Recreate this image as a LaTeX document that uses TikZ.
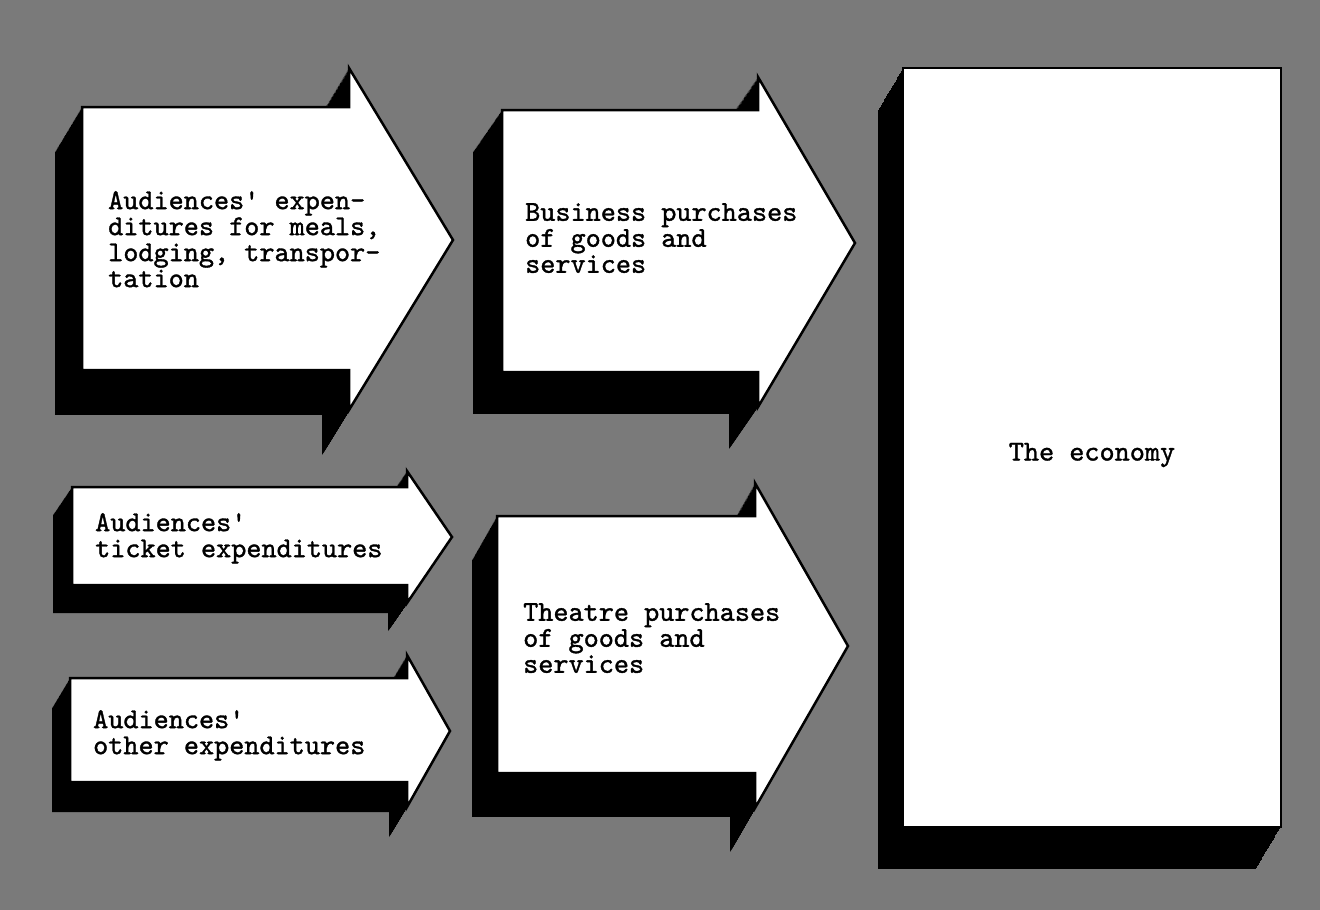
\documentclass[tikz,border=0pt]{standalone}
\usepackage{fontspec}
\usepackage{tikz}
\newfontfamily\typewriter[FakeBold=1.2]{lmmono10-regular.otf}

\begin{document}
\begin{tikzpicture}[
        x=1pt, y=-1pt,
        paper/.style={fill=black!52},
        shadow/.style={fill=black},
        panel/.style={fill=white, draw=black, line width=2.5pt, line join=miter},
        label/.style={font=\typewriter\fontsize{28.8}{26}\selectfont, align=left, inner sep=0pt, anchor=north west},
    ]

    %Draw the grey paper
    \fill [paper] (0,0) rectangle (1320,910);
    \useasboundingbox (0,0) rectangle (1320,910);

    %Draw the meals arrow
    \foreach \s in {0,0.025,...,1}
            \fill [shadow, shift={(-27*\s,45*\s)}] (82,107) -- (349,107) -- (349,68) -- (453,240) -- (349,410) -- (349,370) -- (82,370) -- cycle;
    \draw [panel] (82,107) -- (349,107) -- (349,68) -- (453,240) -- (349,410) -- (349,370) -- (82,370) -- cycle;
    \node [label] (meals) at (108,191) {Audiences' expen-\\ditures for meals,\\lodging, transpor-\\tation};

    %Draw the business arrow
    \foreach \s in {0,0.025,...,1}
            \fill [shadow, shift={(-29*\s,42*\s)}] (502,110) -- (758,110) -- (758,77) -- (855,243) -- (758,407) -- (758,372) -- (502,372) -- cycle;
    \draw [panel] (502,110) -- (758,110) -- (758,77) -- (855,243) -- (758,407) -- (758,372) -- (502,372) -- cycle;
    \node [label] (business) at (525,203) {Business purchases\\of goods and\\services};

    %Draw the ticket arrow
    \foreach \s in {0,0.025,...,1}
            \fill [shadow, shift={(-19*\s,28*\s)}] (72,487) -- (407,487) -- (407,471) -- (452,537) -- (407,603) -- (407,585) -- (72,585) -- cycle;
    \draw [panel] (72,487) -- (407,487) -- (407,471) -- (452,537) -- (407,603) -- (407,585) -- (72,585) -- cycle;
    \node [label] (ticket) at (95,513) {Audiences'\\ticket expenditures};

    %Draw the other arrow
    \foreach \s in {0,0.025,...,1}
            \fill [shadow, shift={(-18*\s,30*\s)}] (70,678) -- (407,678) -- (407,655) -- (450,731) -- (407,807) -- (407,782) -- (70,782) -- cycle;
    \draw [panel] (70,678) -- (407,678) -- (407,655) -- (450,731) -- (407,807) -- (407,782) -- (70,782) -- cycle;
    \node [label] (other) at (93,710) {Audiences'\\other expenditures};

    %Draw the theatre arrow
    \foreach \s in {0,0.025,...,1}
            \fill [shadow, shift={(-25*\s,44*\s)}] (497,516) -- (755,516) -- (755,483) -- (848,646) -- (755,808) -- (755,773) -- (497,773) -- cycle;
    \draw [panel] (497,516) -- (755,516) -- (755,483) -- (848,646) -- (755,808) -- (755,773) -- (497,773) -- cycle;
    \node [label] (theatre) at (523,603) {Theatre purchases\\of goods and\\services};

    %Draw the economy box
    \foreach \s in {0,0.025,...,1}
            \fill [shadow, shift={(-25*\s,42*\s)}] (903,68) rectangle (1281,827);
    \draw [panel] (903,68) rectangle (1281,827);
    \node [label, anchor=center] (economy) at (1092,455) {The economy};
\end{tikzpicture}
\end{document}
